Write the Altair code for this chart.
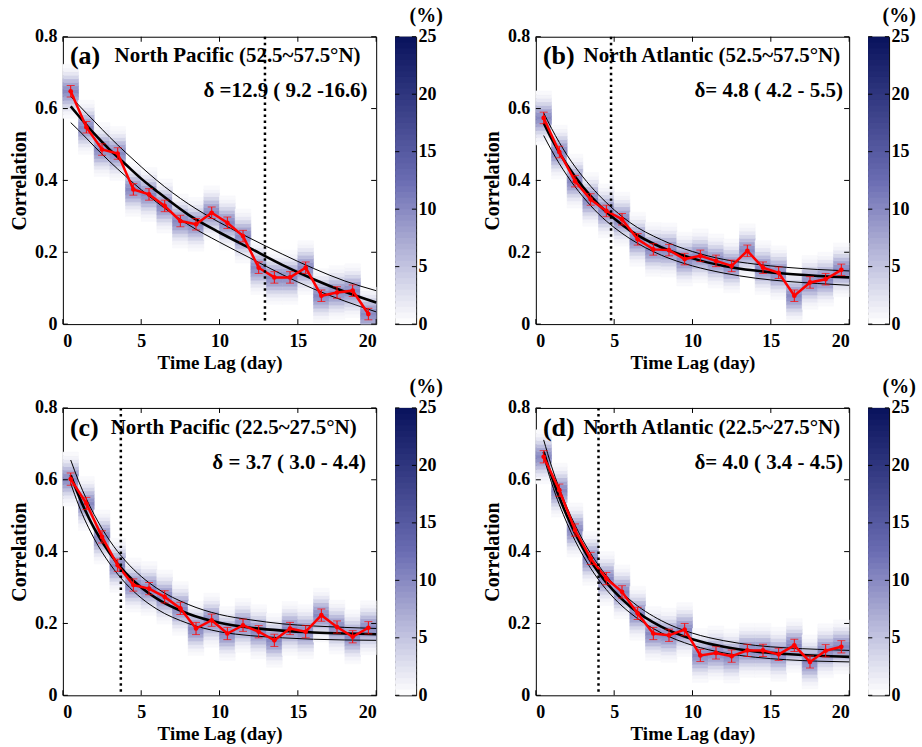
import altair as alt
import numpy as np
import pandas as pd

FONT = "Liberation Serif"

# ---------------- data ----------------
lags = [0.5 + i for i in range(20)]
fit_x = [0.5, 1, 2, 3, 4, 5, 6, 8, 10, 12, 14, 16, 18, 20]

red_a = [0.648, 0.548, 0.486, 0.475, 0.375, 0.361, 0.329, 0.287, 0.278, 0.310,
         0.282, 0.245, 0.157, 0.130, 0.130, 0.157, 0.079, 0.088, 0.093, 0.028]
red_b = [0.574, 0.479, 0.398, 0.347, 0.315, 0.292, 0.236, 0.208, 0.206, 0.181,
         0.190, 0.176, 0.162, 0.204, 0.157, 0.143, 0.079, 0.116, 0.125, 0.151]
red_c = [0.602, 0.534, 0.441, 0.362, 0.307, 0.297, 0.274, 0.242, 0.186, 0.209,
         0.172, 0.195, 0.177, 0.153, 0.186, 0.177, 0.223, 0.190, 0.163, 0.188]
red_d = [0.664, 0.571, 0.460, 0.381, 0.325, 0.288, 0.228, 0.172, 0.167, 0.183,
         0.111, 0.118, 0.109, 0.125, 0.125, 0.114, 0.139, 0.093, 0.124, 0.135]

fit_mid_a = [0.606, 0.580, 0.530, 0.485, 0.445, 0.405, 0.370, 0.305, 0.255, 0.210, 0.165, 0.125, 0.090, 0.060]
fit_up_a = [0.634, 0.610, 0.565, 0.520, 0.478, 0.438, 0.400, 0.335, 0.283, 0.238, 0.195, 0.155, 0.120, 0.093]
fit_lo_a = [0.561, 0.540, 0.495, 0.452, 0.412, 0.374, 0.339, 0.277, 0.228, 0.183, 0.138, 0.098, 0.064, 0.034]

fit_mid_b = [0.560, 0.516, 0.442, 0.382, 0.333, 0.294, 0.261, 0.214, 0.183, 0.162, 0.149, 0.140, 0.134, 0.130]
fit_up_b = [0.588, 0.545, 0.470, 0.410, 0.360, 0.318, 0.283, 0.235, 0.202, 0.180, 0.167, 0.158, 0.152, 0.148]
fit_lo_b = [0.525, 0.484, 0.413, 0.355, 0.307, 0.269, 0.238, 0.192, 0.162, 0.142, 0.128, 0.119, 0.113, 0.108]

fit_mid_c = [0.613, 0.557, 0.465, 0.395, 0.341, 0.300, 0.269, 0.227, 0.202, 0.188, 0.180, 0.175, 0.172, 0.170]
fit_up_c = [0.655, 0.597, 0.503, 0.430, 0.374, 0.331, 0.298, 0.253, 0.225, 0.210, 0.199, 0.193, 0.189, 0.186]
fit_lo_c = [0.590, 0.530, 0.436, 0.366, 0.312, 0.271, 0.240, 0.200, 0.177, 0.166, 0.160, 0.156, 0.154, 0.153]

fit_mid_d = [0.678, 0.610, 0.498, 0.410, 0.342, 0.289, 0.248, 0.191, 0.156, 0.135, 0.122, 0.115, 0.110, 0.107]
fit_up_d = [0.711, 0.638, 0.522, 0.432, 0.362, 0.308, 0.266, 0.208, 0.173, 0.152, 0.139, 0.132, 0.128, 0.125]
fit_lo_d = [0.664, 0.592, 0.478, 0.390, 0.322, 0.270, 0.230, 0.174, 0.139, 0.118, 0.106, 0.099, 0.095, 0.093]

panel_labels = ["(a)", "(b)", "(c)", "(d)"]
regions = ["North Pacific (52.5~57.5°N)", "North Atlantic (52.5~57.5°N)",
           "North Pacific (22.5~27.5°N)", "North Atlantic (22.5~27.5°N)"]
delta_texts = ["δ =12.9 ( 9.2 -16.6)", "δ= 4.8 ( 4.2 - 5.5)",
               "δ = 3.7 ( 3.0 - 4.4)", "δ= 4.0 ( 3.4 - 4.5)"]
deltas = [12.9, 4.8, 3.7, 4.0]
errs = [0.016, 0.016, 0.017, 0.017]

# distribution (%) of member correlations around each lag's mean, 0.01 bins
bin_offsets = [-0.07, -0.06, -0.05, -0.04, -0.03, -0.02, -0.01, 0.0,
               0.01, 0.02, 0.03, 0.04, 0.05, 0.06, 0.07]
profile = [0.5, 1, 2, 3.5, 5.5, 7.5, 9, 10, 9, 7.5, 5.5, 3.5, 2, 1, 0.5]

x_ticks = [0, 5, 10, 15, 20]
y_ticks = [0, 0.2, 0.4, 0.6, 0.8]
cb_ticks = [0, 5, 10, 15, 20, 25]

# ---------------- styling ----------------
color_scale = alt.Scale(domain=[0, 12.5, 25], range=["#ffffff", "#6a6cb2", "#08125c"],
                        interpolate="rgb")
PW, PH = 314, 288


def make_panel(i, red, mid, up, lo, title_x, delta_x):
    xs = alt.Scale(domain=[0, 20], nice=False, zero=False)
    ys = alt.Scale(domain=[0, 0.8], nice=False, zero=False)
    xax = alt.Axis(values=x_ticks, title="Time Lag (day)", ticks=False, tickSize=0,
                   domain=False, grid=False, labelFont=FONT, labelFontSize=18,
                   labelFontWeight="bold", labelPadding=8, labelColor="black",
                   titleFont=FONT, titleFontSize=19, titleFontWeight="bold",
                   titlePadding=3, titleColor="black")
    yax = alt.Axis(values=y_ticks, title="Correlation", ticks=False, tickSize=0,
                   domain=False, grid=False, labelFont=FONT, labelFontSize=18,
                   labelFontWeight="bold", labelPadding=6, labelColor="black",
                   labelExpr="datum.value == 0 ? '0' : format(datum.value, '.1f')",
                   titleFont=FONT, titleFontSize=20, titleFontWeight="bold",
                   titlePadding=5, titleColor="black")

    rows = []
    for lag, c in zip(lags, red):
        for off, p in zip(bin_offsets, profile):
            y0 = max(c + off - 0.005, 0.0)
            y1 = min(c + off + 0.005, 0.8)
            if y1 > y0:
                rows.append(dict(x0=lag - 0.5, x1=lag + 0.5, y0=y0, y1=y1, pct=p))
    heat_df = pd.DataFrame(rows)

    heat = alt.Chart(heat_df).mark_rect(strokeWidth=0.6).encode(
        x=alt.X("x0:Q", scale=xs, axis=xax), x2="x1:Q",
        y=alt.Y("y0:Q", scale=ys, axis=yax), y2="y1:Q",
        color=alt.Color("pct:Q", scale=color_scale, legend=None),
        stroke=alt.Stroke("pct:Q", scale=color_scale, legend=None))

    fit_df = pd.DataFrame({"t": fit_x, "mid": mid, "up": up, "lo": lo})
    base_fit = alt.Chart(fit_df)
    thin_up = base_fit.mark_line(color="black", strokeWidth=1, interpolate="monotone").encode(
        x=alt.X("t:Q", scale=xs, axis=xax), y=alt.Y("up:Q", scale=ys, axis=yax))
    thin_lo = base_fit.mark_line(color="black", strokeWidth=1, interpolate="monotone").encode(
        x=alt.X("t:Q", scale=xs, axis=xax), y=alt.Y("lo:Q", scale=ys, axis=yax))
    thick = base_fit.mark_line(color="black", strokeWidth=2.6, interpolate="monotone").encode(
        x=alt.X("t:Q", scale=xs, axis=xax), y=alt.Y("mid:Q", scale=ys, axis=yax))

    e = errs[i]
    red_df = pd.DataFrame({"lag": lags, "r": red,
                           "elo": [v - e for v in red], "ehi": [v + e for v in red]})
    base_red = alt.Chart(red_df)
    ebar = base_red.mark_rule(color="#ff0000", strokeWidth=1).encode(
        x=alt.X("lag:Q", scale=xs, axis=xax), y=alt.Y("elo:Q", scale=ys, axis=yax), y2="ehi:Q")
    cap_lo = base_red.mark_tick(color="#ff0000", orient="horizontal", size=8, thickness=1).encode(
        x=alt.X("lag:Q", scale=xs, axis=xax), y=alt.Y("elo:Q", scale=ys, axis=yax))
    cap_hi = base_red.mark_tick(color="#ff0000", orient="horizontal", size=8, thickness=1).encode(
        x=alt.X("lag:Q", scale=xs, axis=xax), y=alt.Y("ehi:Q", scale=ys, axis=yax))
    rline = base_red.mark_line(color="#ff0000", strokeWidth=2.5,
                               point=alt.OverlayMarkDef(color="#ff0000", filled=True, size=22)).encode(
        x=alt.X("lag:Q", scale=xs, axis=xax), y=alt.Y("r:Q", scale=ys, axis=yax))

    dl_df = pd.DataFrame({"d": [deltas[i]]})
    dline = alt.Chart(dl_df).mark_rule(color="black", strokeWidth=2.5, strokeDash=[2.5, 3.5]).encode(
        x=alt.X("d:Q", scale=xs, axis=xax))

    lab_df = pd.DataFrame({"x": [0.45], "y": [0.745], "t": [panel_labels[i]]})
    lab = alt.Chart(lab_df).mark_text(font=FONT, fontSize=26, fontWeight="bold", align="left",
                                      baseline="middle", color="black").encode(
        x=alt.X("x:Q", scale=xs, axis=xax), y=alt.Y("y:Q", scale=ys, axis=yax), text="t:N")
    reg_df = pd.DataFrame({"x": [title_x], "y": [0.745], "t": [regions[i]]})
    reg = alt.Chart(reg_df).mark_text(font=FONT, fontSize=21, fontWeight="bold", align="left",
                                      baseline="middle", color="black").encode(
        x=alt.X("x:Q", scale=xs, axis=xax), y=alt.Y("y:Q", scale=ys, axis=yax), text="t:N")
    dt_df = pd.DataFrame({"x": [delta_x], "y": [0.648], "t": [delta_texts[i]]})
    dtx = alt.Chart(dt_df).mark_text(font=FONT, fontSize=21, fontWeight="bold", align="right",
                                     baseline="middle", color="black").encode(
        x=alt.X("x:Q", scale=xs, axis=xax), y=alt.Y("y:Q", scale=ys, axis=yax), text="t:N")

    # inward tick marks on all four sides
    xt_rows = [dict(x=v, a=0.0, b=0.014) for v in x_ticks] + [dict(x=v, a=0.786, b=0.8) for v in x_ticks]
    yt_rows = [dict(y=v, a=0.0, b=0.32) for v in y_ticks] + [dict(y=v, a=19.68, b=20.0) for v in y_ticks]
    xt = alt.Chart(pd.DataFrame(xt_rows)).mark_rule(color="black", strokeWidth=1).encode(
        x=alt.X("x:Q", scale=xs, axis=xax), y=alt.Y("a:Q", scale=ys, axis=yax), y2="b:Q")
    yt = alt.Chart(pd.DataFrame(yt_rows)).mark_rule(color="black", strokeWidth=1).encode(
        x=alt.X("a:Q", scale=xs, axis=xax), x2="b:Q", y=alt.Y("y:Q", scale=ys, axis=yax))

    return alt.layer(heat, thin_up, thin_lo, thick, ebar, cap_lo, cap_hi, rline,
                     dline, lab, reg, dtx, xt, yt).properties(width=PW, height=PH)


def make_cbar():
    lv = np.arange(0, 25, 0.5)
    cb_df = pd.DataFrame({"lo": lv, "hi": np.minimum(lv + 0.8, 25), "mid": lv + 0.25,
                          "x0": 0.0, "x1": 1.0})
    cxs = alt.Scale(domain=[0, 1], nice=False, zero=False)
    cys = alt.Scale(domain=[0, 25], nice=False, zero=False)
    cax = alt.Axis(orient="right", values=cb_ticks, title=None, ticks=False, tickSize=0,
                   domain=False, grid=False, labelFont=FONT, labelFontSize=18,
                   labelFontWeight="bold", labelPadding=2, labelColor="black")
    rect = alt.Chart(cb_df).mark_rect(strokeWidth=0).encode(
        x=alt.X("x0:Q", scale=cxs, axis=None), x2="x1:Q",
        y=alt.Y("lo:Q", scale=cys, axis=cax), y2="hi:Q",
        color=alt.Color("mid:Q", scale=color_scale, legend=None),
        order=alt.Order("lo:Q"))
    tk_rows = [dict(v=v, a=0.0, b=0.2) for v in cb_ticks] + [dict(v=v, a=0.8, b=1.0) for v in cb_ticks]
    tks = alt.Chart(pd.DataFrame(tk_rows)).mark_rule(color="black", strokeWidth=1).encode(
        x=alt.X("a:Q", scale=cxs, axis=None), x2="b:Q", y=alt.Y("v:Q", scale=cys, axis=cax))
    return alt.layer(rect, tks).properties(
        width=21, height=PH,
        title=alt.TitleParams("(%)", anchor="start", dx=15, offset=2, fontSize=20,
                              font=FONT, fontWeight="bold", color="black"))


pa = make_panel(0, red_a, fit_mid_a, fit_up_a, fit_lo_a, 3.3, 19.45)
pb = make_panel(1, red_b, fit_mid_b, fit_up_b, fit_lo_b, 3.05, 19.6)
pc = make_panel(2, red_c, fit_mid_c, fit_up_c, fit_lo_c, 3.05, 19.35)
pd_ = make_panel(3, red_d, fit_mid_d, fit_up_d, fit_lo_d, 3.05, 19.6)

row1 = alt.hconcat(pa, make_cbar(), spacing=12)
row1 = alt.hconcat(row1, alt.hconcat(pb, make_cbar(), spacing=12), spacing=38)
row2 = alt.hconcat(pc, make_cbar(), spacing=12)
row2 = alt.hconcat(row2, alt.hconcat(pd_, make_cbar(), spacing=12), spacing=38)

chart = alt.vconcat(row1, row2, spacing=3).properties(
    padding={"left": 9, "top": 4, "right": 5, "bottom": 2},
    background="white",
).configure_view(stroke="black", strokeWidth=1)

chart.save("out.html", embed_options={"renderer": "svg", "actions": False})
